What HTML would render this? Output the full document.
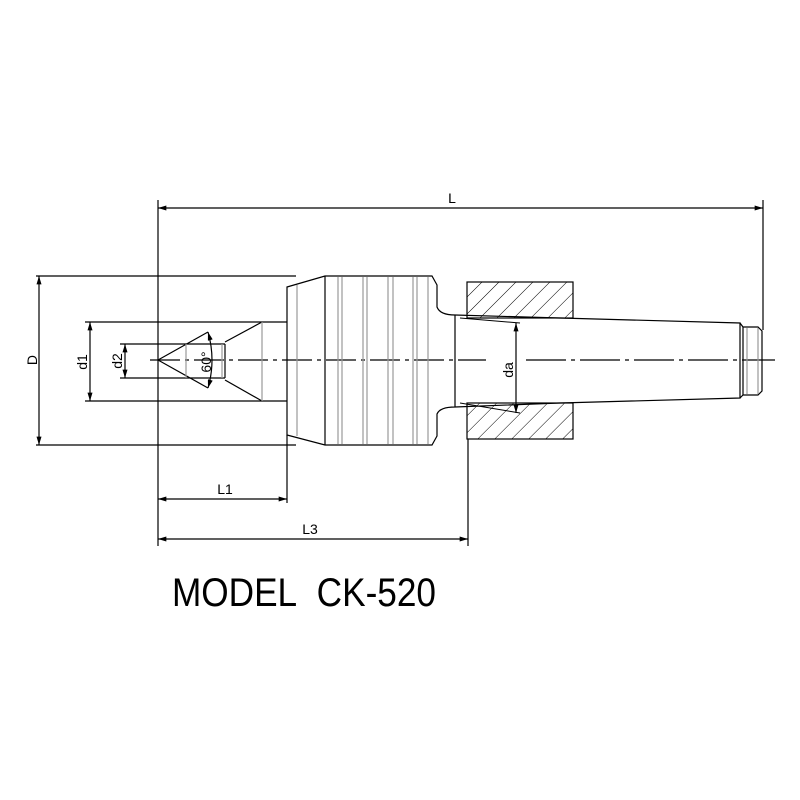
<!DOCTYPE html>
<html><head><meta charset="utf-8"><style>html,body{margin:0;padding:0;background:#fff}svg{display:block}</style></head>
<body>
<svg width="800" height="800" viewBox="0 0 800 800" xmlns="http://www.w3.org/2000/svg" font-family="Liberation Sans, sans-serif">
<defs>
<marker id="a" viewBox="0 0 10 6" refX="10" refY="3" markerWidth="11" markerHeight="5" orient="auto-start-reverse" markerUnits="userSpaceOnUse"><path d="M0,0L10,3L0,6z" fill="#000"/></marker>
<pattern id="h" patternUnits="userSpaceOnUse" width="12" height="12" patternTransform="rotate(45)"><line x1="0" y1="0" x2="0" y2="12" stroke="#000" stroke-width="1"/></pattern>
</defs>
<g stroke="#000" stroke-width="1.2" fill="none">
<line x1="158" y1="200" x2="158" y2="546"/>
<line x1="763" y1="200" x2="763" y2="330"/>
<line x1="287" y1="435" x2="287" y2="503"/>
<line x1="468" y1="439" x2="468" y2="546"/>
<line x1="36" y1="276" x2="296" y2="276"/>
<line x1="36" y1="445" x2="296" y2="445"/>
<line x1="85" y1="322" x2="287" y2="322"/>
<line x1="85" y1="401" x2="287" y2="401"/>
<line x1="120" y1="344" x2="225" y2="344"/>
<line x1="120" y1="378" x2="225" y2="378"/>
<line x1="158" y1="208" x2="763" y2="208" marker-start="url(#a)" marker-end="url(#a)"/>
<line x1="158" y1="499" x2="287" y2="499" marker-start="url(#a)" marker-end="url(#a)"/>
<line x1="158" y1="539" x2="468" y2="539" marker-start="url(#a)" marker-end="url(#a)"/>
<line x1="39" y1="276" x2="39" y2="445" marker-start="url(#a)" marker-end="url(#a)"/>
<line x1="90" y1="322" x2="90" y2="401" marker-start="url(#a)" marker-end="url(#a)"/>
<line x1="125" y1="344" x2="125" y2="378" marker-start="url(#a)" marker-end="url(#a)"/>
<line x1="516" y1="323" x2="516" y2="413" marker-start="url(#a)" marker-end="url(#a)"/>
<line x1="158" y1="360" x2="208" y2="332"/>
<line x1="158" y1="360" x2="208" y2="388"/>
<line x1="225" y1="344" x2="225" y2="378"/>
<line x1="225" y1="342" x2="262" y2="322"/>
<line x1="225" y1="380" x2="262" y2="401"/>
<path d="M208,332 Q216,360 208,388" marker-start="url(#a)" marker-end="url(#a)"/>
<path d="M287,287 L325,276 L432,276 L437,285 L437,307 Q440,315 455,315 L560,318 L740,323 L740,398 L560,403 L455,407 Q440,407 437,414 L437,436 L432,445 L325,445 L287,435 Z"/>
<line x1="325" y1="276" x2="325" y2="445"/>
<line x1="455" y1="315" x2="455" y2="407"/>
<path d="M740,323 L743,327 L758,327 L762,331 L762,391 L758,395 L743,395 L740,398"/>
<line x1="743" y1="327" x2="743" y2="395"/>
<rect x="467" y="282" width="106" height="36" fill="url(#h)"/>
<rect x="467" y="403" width="106" height="36" fill="url(#h)"/>
<path d="M460,318 L520,323" stroke-width="1"/>
<path d="M460,403 L520,413" stroke-width="1"/>
<line x1="150" y1="360" x2="486" y2="360" stroke-dasharray="30,5,4,5"/>
<line x1="526" y1="360" x2="775" y2="360" stroke-dasharray="40,5,4,5"/>
</g>
<g stroke="#999" stroke-width="1.2">
<line x1="186" y1="344" x2="186" y2="378"/>
<line x1="222" y1="344" x2="222" y2="378"/>
<line x1="262" y1="322" x2="262" y2="401"/>
<line x1="297" y1="285" x2="297" y2="436"/>
<line x1="338" y1="277" x2="338" y2="444"/><line x1="342" y1="277" x2="342" y2="444"/>
<line x1="363" y1="277" x2="363" y2="444"/><line x1="367" y1="277" x2="367" y2="444"/>
<line x1="388" y1="277" x2="388" y2="444"/><line x1="393" y1="277" x2="393" y2="444"/>
<line x1="413" y1="277" x2="413" y2="444"/><line x1="417" y1="277" x2="417" y2="444"/>
<line x1="428" y1="277" x2="428" y2="444"/>
<line x1="747" y1="328" x2="747" y2="394"/>
<line x1="758" y1="328" x2="758" y2="394"/>
</g>
<g font-size="14" fill="#000">
<text x="452" y="203" text-anchor="middle">L</text>
<text x="225" y="494" text-anchor="middle">L1</text>
<text x="310" y="534" text-anchor="middle">L3</text>
<text transform="translate(37,360) rotate(-90)" text-anchor="middle">D</text>
<text transform="translate(87,362) rotate(-90)" text-anchor="middle">d1</text>
<text transform="translate(122,361) rotate(-90)" text-anchor="middle">d2</text>
<text transform="translate(513,370) rotate(-90)" text-anchor="middle">da</text>
<text transform="translate(211,362) rotate(-90)" text-anchor="middle">60°</text>
<text x="172" y="606" font-size="40" textLength="264" lengthAdjust="spacingAndGlyphs" xml:space="preserve">MODEL&#160; CK-520</text>
</g>
</svg>
</body></html>
